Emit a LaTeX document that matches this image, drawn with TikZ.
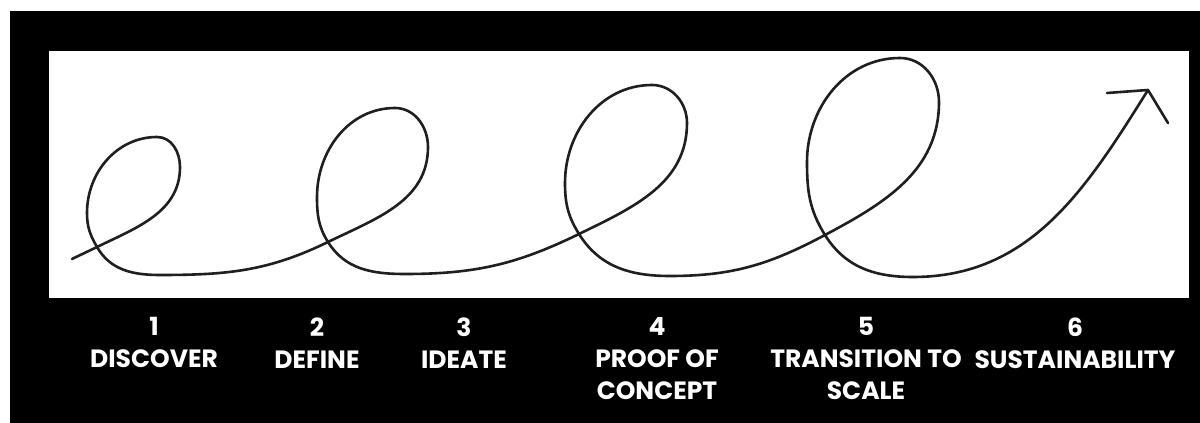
\documentclass[tikz,border=0pt]{standalone}
\usepackage{fontspec}
\setsansfont{Poppins}
\usetikzlibrary{positioning}
\tikzset{
  panel/.style={fill=white, draw=none},
  curl/.style={line width=1.3pt, draw=black!88, line cap=round, line join=round},
  stage/.style={font=\sffamily\bfseries\fontsize{12.5}{16}\selectfont, text=white, align=center, anchor=north, inner sep=0pt},
}

\begin{document}
\begin{tikzpicture}[x=0.5pt, y=0.5pt]
\useasboundingbox (0,0) rectangle (1200,423);
\fill[white] (0,0) rectangle (1200,423);
\fill[black] (10,0) rectangle (1200,412);
\fill[panel] (49,125) rectangle (1189,372);

% points of the curl
\coordinate (s) at (72,164);
\coordinate (c1) at (97,176);
\coordinate (r1) at (180,256);
\coordinate (t1) at (157,286);
\coordinate (l1) at (87,210);
\coordinate (b1) at (160,148);
\coordinate (c2) at (328,181);
\coordinate (r2) at (428,276);
\coordinate (t2) at (395,315);
\coordinate (l2) at (317,226);
\coordinate (b2) at (405,149);
\coordinate (c3) at (579,189);
\coordinate (r3) at (687,300);
\coordinate (t3) at (652,338);
\coordinate (l3) at (565,240);
\coordinate (b3) at (670,147);
\coordinate (c4) at (825,188);
\coordinate (r4) at (939,321);
\coordinate (t4) at (900,365);
\coordinate (l4) at (807,261);
\coordinate (b4) at (913,146);
\coordinate (tip) at (1148,333);
\coordinate (barbl) at (1107,330);
\coordinate (barbr) at (1168,300);

\draw[curl] (s) to[out=26,in=206] (c1) to[out=26,in=270] (r1) to[out=90,in=0] (t1)
  to[out=180,in=90] (l1) to[out=270,in=120] (c1) to[out=-60,in=180] (b1)
  to[out=0,in=206] (c2) to[out=26,in=270] (r2) to[out=90,in=0] (t2)
  to[out=180,in=90] (l2) to[out=270,in=122] (c2) to[out=-58,in=180] (b2)
  to[out=0,in=206] (c3) to[out=26,in=270] (r3) to[out=90,in=0] (t3)
  to[out=180,in=90] (l3) to[out=270,in=122] (c3) to[out=-58,in=180] (b3)
  to[out=0,in=208] (c4) to[out=28,in=270] (r4) to[out=90,in=0] (t4)
  to[out=180,in=90] (l4) to[out=270,in=122] (c4) to[out=-58,in=180] (b4)
  to[out=0,in=238] (tip);
\draw[curl] (barbl) -- (tip) -- (barbr);

\node[stage] (discover) at (154,106) {1\\DISCOVER};
\node[stage] (define) at (317,106) {2\\DEFINE};
\node[stage] (ideate) at (464,106) {3\\IDEATE};
\node[stage] (proof) at (657,106) {4\\PROOF OF\\CONCEPT};
\node[stage] (scale) at (866,106) {5\\TRANSITION TO\\SCALE};
\node[stage] (sustain) at (1075,106) {6\\SUSTAINABILITY};
\end{tikzpicture}
\end{document}
